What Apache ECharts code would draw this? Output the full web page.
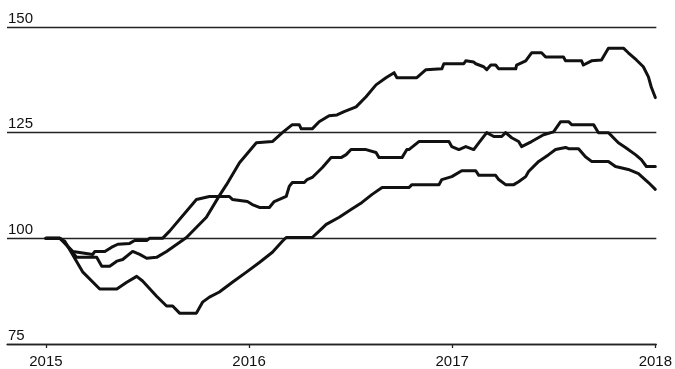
<!DOCTYPE html>
<html>
<head>
<meta charset="utf-8">
<script src="https://cdn.jsdelivr.net/npm/echarts@6/dist/echarts.min.js"></script>
<style>
  html, body { margin: 0; padding: 0; background: #fff; }
  #chart { width: 675px; height: 369px; }
</style>
</head>
<body>
<div id="chart"></div>
<script>
// Index levels (start of 2015 = 100), sampled as [decimal year, index]
const yearTicks = [2015, 2016, 2017, 2018];
const yTicks = [75, 100, 125, 150];

const seriesHigh = [
  [2015.000, 100], [2015.069, 100], [2015.083, 99.5], [2015.152, 95.5], [2015.250, 95.5],
  [2015.275, 93.4], [2015.314, 93.4], [2015.349, 94.6], [2015.378, 95.0], [2015.427, 96.9],
  [2015.462, 96.2], [2015.496, 95.3], [2015.545, 95.5], [2015.594, 96.9], [2015.692, 100.2],
  [2015.790, 105.0], [2015.854, 110.1], [2015.889, 112.7], [2015.953, 117.9], [2016.036, 122.6],
  [2016.115, 122.9], [2016.164, 125.0], [2016.213, 126.9], [2016.247, 126.9], [2016.257, 125.9],
  [2016.311, 125.9], [2016.345, 127.6], [2016.394, 129.0], [2016.433, 129.2], [2016.468, 130.0],
  [2016.527, 131.1], [2016.576, 133.5], [2016.625, 136.3], [2016.674, 138.0], [2016.714, 139.2],
  [2016.728, 138.0], [2016.826, 138.0], [2016.871, 139.9], [2016.949, 140.1], [2016.959, 141.3],
  [2017.057, 141.3], [2017.067, 142.0], [2017.106, 141.7], [2017.116, 141.3], [2017.155, 140.6],
  [2017.170, 139.9], [2017.190, 141.0], [2017.214, 141.0], [2017.229, 140.1], [2017.313, 140.1],
  [2017.317, 141.0], [2017.362, 142.0], [2017.391, 143.9], [2017.440, 143.9], [2017.460, 142.9],
  [2017.548, 142.9], [2017.558, 142.0], [2017.637, 142.0], [2017.646, 141.0], [2017.686, 142.0],
  [2017.735, 142.2], [2017.769, 145.0], [2017.843, 145.0], [2017.867, 143.9], [2017.907, 142.2],
  [2017.941, 140.6], [2017.966, 138.2], [2017.980, 135.8], [2018.000, 133.3]
];

const seriesMid = [
  [2015.000, 100], [2015.069, 100], [2015.133, 96.9], [2015.231, 96.2], [2015.241, 96.9],
  [2015.290, 96.9], [2015.324, 97.9], [2015.354, 98.6], [2015.412, 98.8], [2015.437, 99.5],
  [2015.496, 99.5], [2015.511, 100], [2015.574, 100], [2015.609, 101.7], [2015.741, 109.2],
  [2015.805, 109.9], [2015.903, 109.9], [2015.918, 109.2], [2015.992, 108.7], [2016.016, 108.0],
  [2016.051, 107.3], [2016.100, 107.3], [2016.124, 108.7], [2016.183, 109.9], [2016.198, 112.3],
  [2016.213, 113.2], [2016.272, 113.2], [2016.286, 113.9], [2016.311, 114.4], [2016.360, 116.7],
  [2016.404, 119.1], [2016.453, 119.1], [2016.478, 119.8], [2016.502, 121.0], [2016.576, 121.0],
  [2016.625, 120.3], [2016.640, 119.1], [2016.753, 119.1], [2016.777, 121.0], [2016.787, 121.0],
  [2016.836, 122.9], [2016.984, 122.9], [2016.998, 121.7], [2017.033, 121.0], [2017.067, 121.7],
  [2017.106, 121.0], [2017.131, 122.6], [2017.170, 125.0], [2017.205, 124.1], [2017.244, 124.1],
  [2017.263, 125.0], [2017.293, 123.8], [2017.327, 122.9], [2017.342, 121.7], [2017.391, 122.9],
  [2017.450, 124.5], [2017.499, 125.2], [2017.534, 127.6], [2017.573, 127.6], [2017.588, 126.9],
  [2017.696, 126.9], [2017.720, 125.0], [2017.769, 125.0], [2017.818, 122.6], [2017.853, 121.5],
  [2017.902, 119.8], [2017.931, 118.6], [2017.956, 117.0], [2018.000, 117.0]
];

const seriesLow = [
  [2015.000, 100], [2015.069, 100], [2015.093, 99.3], [2015.182, 92.0], [2015.265, 88.0],
  [2015.349, 88.0], [2015.398, 89.6], [2015.447, 91.0], [2015.476, 89.9], [2015.545, 86.3],
  [2015.594, 84.0], [2015.624, 84.0], [2015.658, 82.3], [2015.741, 82.3], [2015.771, 84.9],
  [2015.805, 86.1], [2015.854, 87.3], [2015.918, 89.6], [2015.987, 92.0], [2016.051, 94.3],
  [2016.115, 96.7], [2016.164, 99.3], [2016.183, 100.2], [2016.311, 100.2], [2016.345, 101.7],
  [2016.380, 103.3], [2016.444, 105.0], [2016.502, 106.8], [2016.556, 108.5], [2016.606, 110.4],
  [2016.655, 112.0], [2016.787, 112.0], [2016.802, 112.7], [2016.935, 112.7], [2016.949, 113.9],
  [2016.998, 114.6], [2017.047, 116.0], [2017.116, 116.0], [2017.131, 114.9], [2017.214, 114.9],
  [2017.229, 113.9], [2017.263, 112.7], [2017.303, 112.7], [2017.327, 113.4], [2017.362, 114.6],
  [2017.376, 115.8], [2017.426, 118.2], [2017.475, 119.8], [2017.509, 121.0], [2017.558, 121.5],
  [2017.563, 121.9], [2017.573, 121.2], [2017.622, 121.2], [2017.656, 119.3], [2017.686, 118.2],
  [2017.769, 118.2], [2017.804, 117.0], [2017.867, 116.3], [2017.917, 115.3], [2017.966, 113.2],
  [2018.000, 111.6]
];

const chart = echarts.init(document.getElementById('chart'), null, { renderer: 'canvas' });

const FONT = '"Liberation Sans", Arial, sans-serif';
const lineSeries = (data) => ({
  type: 'line',
  data: data,
  showSymbol: false,
  silent: true,
  lineStyle: { color: '#111', width: 3, cap: 'round', join: 'round' },
  z: 3
});

chart.setOption({
  animation: false,
  backgroundColor: '#fff',
  grid: { left: 7, right: 17, top: 27, bottom: 24, containLabel: false },
  xAxis: {
    type: 'value',
    min: 2014.8085,
    max: 2018.005,
    axisLine: { show: true, onZero: false, lineStyle: { color: '#222', width: 1.3 } },
    axisTick: { show: true, customValues: yearTicks, length: 4, lineStyle: { color: '#222', width: 1.3 } },
    axisLabel: {
      customValues: yearTicks,
      formatter: (v) => String(Math.round(v)),
      fontFamily: FONT, fontSize: 15, color: '#111', margin: 10
    },
    splitLine: { show: false }
  },
  yAxis: {
    type: 'value',
    min: 75,
    max: 150,
    interval: 25,
    axisLine: { show: false },
    axisTick: { show: false },
    axisLabel: {
      inside: true,
      margin: 1,
      verticalAlign: 'bottom',
      padding: [0, 0, 1, 0],
      fontFamily: FONT, fontSize: 15, color: '#111',
      formatter: (v) => (yTicks.indexOf(v) >= 0 ? String(v) : '')
    },
    splitLine: { show: true, lineStyle: { color: '#222', width: 1.3 } }
  },
  series: [lineSeries(seriesHigh), lineSeries(seriesMid), lineSeries(seriesLow)]
});
</script>
</body>
</html>
